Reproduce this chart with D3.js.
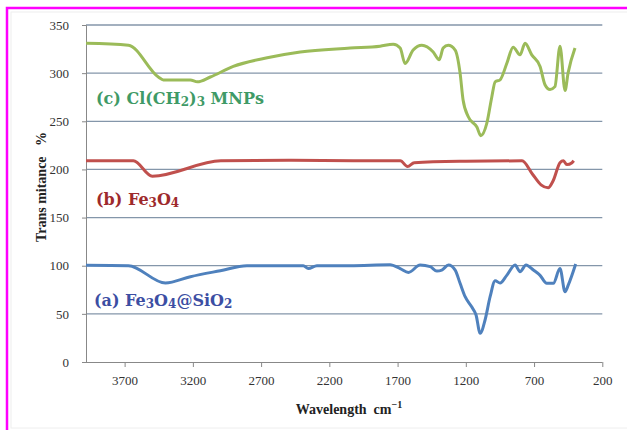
<!DOCTYPE html>
<meta charset="utf-8">
<style>
    body { margin: 0; background: #fff; }
    .axis-title { font-family: "Liberation Serif", "DejaVu Serif", serif; font-weight: bold; font-size: 14px; fill: #222; white-space: pre; }
    .series-label { font-family: "DejaVu Serif", serif; font-weight: bold; font-size: 16px; }
</style>
<svg width="627" height="430"></svg>
<script src="https://d3js.org/d3.v7.min.js"></script>
<script>

    // y ticks and x ticks
    var yTicks = [0, 50, 100, 150, 200, 250, 300, 350];
    var xTicks = [3700, 3200, 2700, 2200, 1700, 1200, 700, 200];

    // (c) Cl(CH2)3 MNPs
    var waveC = [3983, 3672, 3453, 3416, 3219, 3167, 3072, 2904, 2655, 2413, 2047, 1828, 1732, 1681, 1645, 1586, 1522, 1439, 1395, 1366, 1329, 1278, 1242, 1220, 1183, 1119, 1090, 1046, 1010, 985, 949, 900, 853, 803, 766, 717, 656, 620, 583, 547, 510, 473, 451, 400];
    var transC = [331, 329, 296, 293, 293, 291, 296, 307, 316, 322, 326, 328, 330, 326, 310, 324, 329, 322, 314, 326, 329, 324, 300, 272, 255, 244, 235, 248, 275, 291, 293, 310, 327, 319, 331, 319, 307, 288, 283, 286, 328, 282, 300, 326];

    // (b) Fe3O4
    var waveB = [3983, 3636, 3497, 2994, 2500, 2000, 1680, 1627, 1578, 1200, 788, 711, 649, 597, 561, 510, 485, 460, 422, 409];
    var transB = [209, 209, 193, 209, 209.5, 209, 209, 203, 207, 208.5, 209, 195, 184, 181, 188, 207, 209, 205, 207, 209];

    // (a) Fe3O4@SiO2
    var waveA = [3983, 3672, 3401, 3218, 2999, 2804, 2391, 2354, 2291, 2047, 1755, 1681, 1620, 1535, 1461, 1412, 1376, 1327, 1278, 1242, 1205, 1156, 1125, 1095, 1059, 1022, 985, 949, 900, 839, 803, 759, 705, 656, 607, 559, 510, 473, 449, 395];
    var transA = [100.5, 100, 82, 88.6, 94.8, 100, 100, 97, 100, 100, 101, 97, 93, 100.7, 99, 94.5, 95.5, 100.7, 95.5, 81.7, 67.8, 57, 48.8, 29.8, 43.6, 67.8, 84.4, 82, 90, 100.7, 93.8, 100.7, 95.5, 90, 81.7, 81.7, 97, 73, 80, 101.7];

    var svg = d3.select("svg");

    // magenta frame and faint inner frame
    svg.append("rect").attr("x", 7).attr("y", 8).attr("width", 640).attr("height", 440)
        .attr("fill", "none").attr("stroke", "#ff00ff").attr("stroke-width", 2.5);
    svg.append("rect").attr("x", 11).attr("y", 12).attr("width", 620).attr("height", 416)
        .attr("fill", "none").attr("stroke", "#eeeeee").attr("stroke-width", 1);

    var x = d3.scaleLinear().domain([3983, 200]).range([86, 602.3]);
    var y = d3.scaleLinear().domain([0, 350]).range([362, 25]);

    // gridlines
    svg.append("g").selectAll("line")
        .data(yTicks.filter(function (d) { return d > 0; }))
        .enter().append("line")
        .attr("x1", 86).attr("x2", 602.3)
        .attr("y1", function (d) { return y(d); })
        .attr("y2", function (d) { return y(d); })
        .attr("stroke", "#8496aa").attr("stroke-width", 1.3);

    var serif = "Liberation Serif, DejaVu Serif, serif";

    // y axis
    var yAxis = svg.append("g").attr("transform", "translate(86,0)")
        .call(d3.axisLeft(y).tickValues(yTicks).tickSize(4).tickPadding(13));
    yAxis.attr("font-family", serif).attr("font-size", 13);
    yAxis.select(".domain").attr("stroke", "#888");
    yAxis.selectAll(".tick line").attr("stroke", "#888");
    yAxis.selectAll("text").attr("fill", "#333");

    // x axis
    var xAxis = svg.append("g").attr("transform", "translate(0,362)")
        .call(d3.axisBottom(x).tickValues(xTicks).tickSize(5).tickPadding(9).tickFormat(d3.format("d")));
    xAxis.attr("font-family", serif).attr("font-size", 13);
    xAxis.select(".domain").attr("stroke", "#888").attr("d", "M82,0.5H602.3");
    xAxis.selectAll(".tick line").attr("stroke", "#888");
    xAxis.selectAll("text").attr("fill", "#333");

    // axis titles
    var xt = svg.append("text").attr("class", "axis-title")
        .attr("x", 349).attr("y", 414).attr("text-anchor", "middle");
    xt.append("tspan").text("Wavelength  cm");
    xt.append("tspan").attr("dy", -6).attr("font-size", 10).text("\u22121");

    svg.append("text").attr("class", "axis-title")
        .attr("transform", "translate(46,187) rotate(-90)")
        .attr("text-anchor", "middle")
        .text("Trans mitance   %");

    // curves
    var line = d3.line()
        .x(function (d) { return x(d[0]); })
        .y(function (d) { return y(d[1]); })
        .curve(d3.curveMonotoneX);

    var series = [
        { wave: waveC, trans: transC, color: "#9bbb59" },
        { wave: waveB, trans: transB, color: "#c0504d" },
        { wave: waveA, trans: transA, color: "#4f81bd" }
    ];

    svg.append("g").selectAll("path")
        .data(series)
        .enter().append("path")
        .attr("fill", "none")
        .attr("stroke", function (d) { return d.color; })
        .attr("stroke-width", 3)
        .attr("stroke-linejoin", "round")
        .attr("d", function (d) { return line(d3.zip(d.wave, d.trans)); });

    // series labels, parts: [text, isSub]
    function label(xp, yp, color, parts) {
        var t = svg.append("text").attr("class", "series-label")
            .attr("x", xp).attr("y", yp).attr("fill", color);
        parts.forEach(function (p, i) {
            var s = t.append("tspan").text(p[0]);
            if (p[1]) s.attr("font-size", 12).attr("dy", 2);
            else if (i > 0 && parts[i - 1][1]) s.attr("dy", -2);
        });
    }

    label(96, 104, "#3f9a66", [["(c) Cl(CH", 0], ["2", 1], [")", 0], ["3", 1], [" MNPs", 0]]);
    label(96, 205, "#9e2a2c", [["(b) Fe", 0], ["3", 1], ["O", 0], ["4", 1]]);
    label(94, 306, "#3c4ea3", [["(a) Fe", 0], ["3", 1], ["O", 0], ["4", 1], ["@SiO", 0], ["2", 1]]);

</script>
